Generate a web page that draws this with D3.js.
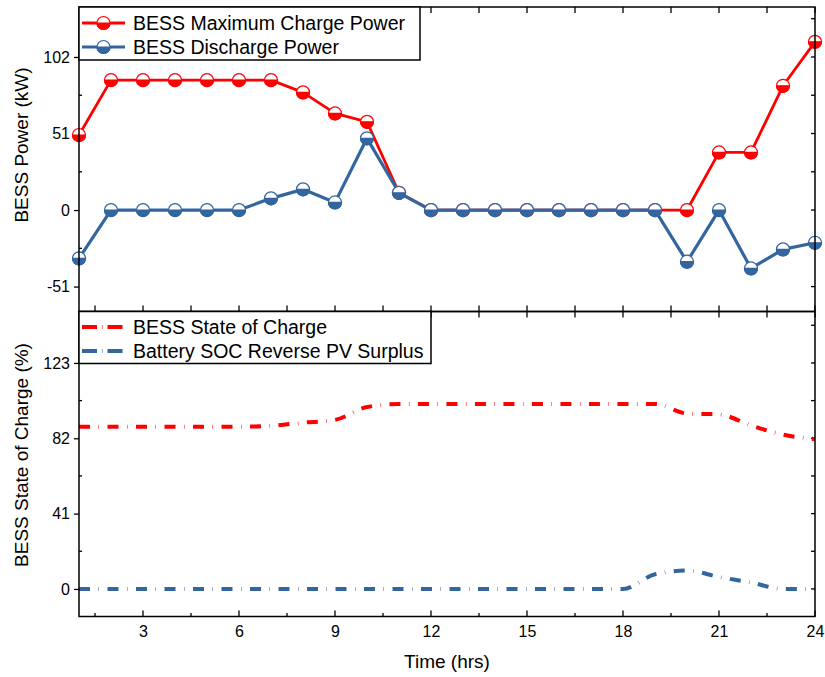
<!DOCTYPE html>
<html>
<head>
<meta charset="utf-8">
<script src="https://cdn.jsdelivr.net/npm/d3@7"></script>
<style>
  html, body { margin: 0; padding: 0; background: #fff; }
  svg { display: block; font-family: "Liberation Sans", Arial, sans-serif; }
</style>
</head>
<body>
<svg id="chart" width="825" height="677"></svg>
<script>
// Hourly BESS operation data
const hours = [1,2,3,4,5,6,7,8,9,10,11,12,13,14,15,16,17,18,19,20,21,22,23,24];
const chargePower = [50, 86.6, 86.6, 86.6, 86.6, 86.6, 86.6, 78.4, 64.4, 58.8, 11.5, 0,
                     0, 0, 0, 0, 0, 0, 0, 0, 38.4, 38.4, 82.8, 112.1];
const dischargePower = [-32.2, 0, 0, 0, 0, 0, 7.8, 13.8, 5.1, 47.8, 11.5, 0,
                        0, 0, 0, 0, 0, 0, 0, -34.4, 0, -38.9, -26.2, -21.8];
const stateOfCharge = [88.3, 88.3, 88.3, 88.3, 88.3, 88.3, 88.8, 90.5, 92, 99, 100.7, 100.7,
                       100.7, 100.7, 100.7, 100.7, 100.7, 100.7, 100.7, 95.5, 95, 89, 84, 81.5];
const socReverse = [0, 0, 0, 0, 0, 0, 0, 0, 0, 0, 0, 0,
                    0, 0, 0, 0, 0, 0, 8, 10, 6.5, 3.5, 0, 0];

const xTicks = [3, 6, 9, 12, 15, 18, 21, 24];
const powerTicks = [-51, 0, 51, 102];
const socTicks = [0, 41, 82, 123];

const RED = "#ff0000";
const BLUE = "#33659e";

const svg = d3.select("#chart");

const left = 79, right = 815;
const topY0 = 7, midY = 311.5, botY = 616.5;

const x = d3.scaleLinear().domain([1, 24]).range([left, right]);
const yPow = d3.scaleLinear().domain([-67.6, 135.3]).range([midY, topY0]);
const ySoc = d3.scaleLinear().domain([-15, 151]).range([botY, midY]);

// plain hyphen-minus labels
const fmt = d => String(d);

// minor tick positions (half-steps between major ticks)
const xMinor = d3.range(1.5, 24, 3);
const powMinor = [-25.5, 25.5, 76.5, 127.5];
const socMinor = [20.5, 61.5, 102.5, 143.5];

function drawPanel(y, y0, y1, majors, minors, isBottom) {
  const g = svg.append("g");
  // inward ticks along the top and bottom edges
  xTicks.forEach(t => {
    g.append("line").attr("x1", x(t)).attr("x2", x(t))
      .attr("y1", y1).attr("y2", y1 + 6).attr("stroke", "#000").attr("stroke-width", 1.3);
    g.append("line").attr("x1", x(t)).attr("x2", x(t))
      .attr("y1", y0).attr("y2", y0 - 6).attr("stroke", "#000").attr("stroke-width", 1.3);
  });
  xMinor.forEach(t => {
    g.append("line").attr("x1", x(t)).attr("x2", x(t))
      .attr("y1", y1).attr("y2", y1 + 6).attr("stroke", "#000").attr("stroke-width", 1.3);
    g.append("line").attr("x1", x(t)).attr("x2", x(t))
      .attr("y1", y0).attr("y2", y0 - (isBottom ? 3.5 : 6)).attr("stroke", "#000").attr("stroke-width", 1.3);
  });
  // left axis: labelled ticks outward, minor ticks inward
  const axL = d3.axisLeft(y).tickValues(majors).tickSize(5).tickPadding(4).tickFormat(fmt);
  const gl = g.append("g").attr("transform", `translate(${left},0)`).call(axL);
  gl.select(".domain").remove();
  gl.selectAll(".tick line").attr("stroke-width", 1.3);
  gl.selectAll(".tick text").attr("font-size", 16).attr("fill", "#000")
    .attr("font-family", "'Liberation Sans', Arial, sans-serif");
  minors.forEach(v => {
    if (v > y.domain()[1]) return;
    g.append("line").attr("x1", left).attr("x2", left + 3)
      .attr("y1", y(v)).attr("y2", y(v)).attr("stroke", "#000").attr("stroke-width", 1.3);
  });
  // right edge: inward ticks at every half-step
  majors.concat(minors).forEach(v => {
    if (v > y.domain()[1]) return;
    g.append("line").attr("x1", right).attr("x2", right - 4)
      .attr("y1", y(v)).attr("y2", y(v)).attr("stroke", "#000").attr("stroke-width", 1.3);
  });
  return g;
}

drawPanel(yPow, midY, topY0, powerTicks, powMinor, false);
drawPanel(ySoc, botY, midY, socTicks, socMinor, true);

// bottom x axis labels
const axB = d3.axisBottom(x).tickValues(xTicks).tickSize(0).tickPadding(9).tickFormat(fmt);
const gb = svg.append("g").attr("transform", `translate(0,${botY})`).call(axB);
gb.select(".domain").remove();
gb.selectAll(".tick text").attr("font-size", 16).attr("fill", "#000")
  .attr("font-family", "'Liberation Sans', Arial, sans-serif");

// clip path for the SOC panel
const defs = svg.append("defs");
defs.append("clipPath").attr("id", "clipBot").append("rect")
  .attr("x", left).attr("y", midY).attr("width", right - left).attr("height", botY - midY);

// ---- Power panel: lines with half-filled circle markers
const powerSeries = [
  { name: "BESS Maximum Charge Power", values: chargePower, color: RED, width: 2.8 },
  { name: "BESS Discharge Power", values: dischargePower, color: BLUE, width: 3.2 }
];

function halfMarker(g, cx, cy, r, color) {
  g.append("circle").attr("cx", cx).attr("cy", cy).attr("r", r)
    .attr("fill", "#fff").attr("stroke", color).attr("stroke-width", 1.2);
  g.append("path")
    .attr("d", `M${cx - r},${cy} A${r},${r} 0 0 0 ${cx + r},${cy} Z`)
    .attr("fill", color).attr("stroke", color).attr("stroke-width", 1.2);
}

const lineGen = d3.line().x((d, i) => x(hours[i])).y(d => yPow(d));
const gTop = svg.append("g");
powerSeries.forEach(s => {
  gTop.append("path").datum(s.values).attr("d", lineGen)
    .attr("fill", "none").attr("stroke", s.color).attr("stroke-width", s.width)
    .attr("stroke-linejoin", "round");
  s.values.forEach((v, i) => halfMarker(gTop, x(hours[i]), yPow(v), 6.5, s.color));
});

// ---- SOC panel: smooth dash-dot curves
const socSeries = [
  { name: "BESS State of Charge", values: stateOfCharge, color: RED },
  { name: "Battery SOC Reverse PV Surplus", values: socReverse, color: BLUE }
];
const socLine = d3.line().x((d, i) => x(hours[i])).y(d => ySoc(d)).curve(d3.curveMonotoneX);
const gBot = svg.append("g").attr("clip-path", "url(#clipBot)");
socSeries.forEach(s => {
  gBot.append("path").datum(s.values).attr("d", socLine)
    .attr("fill", "none").attr("stroke", s.color).attr("stroke-width", 4)
    .attr("stroke-dasharray", "11,8.5,0.5,8.5");
});

// ---- frames
[[topY0, midY], [midY, botY]].forEach(([a, b]) => {
  svg.append("rect").attr("x", left).attr("y", a).attr("width", right - left).attr("height", b - a)
    .attr("fill", "none").attr("stroke", "#000").attr("stroke-width", 1.5);
});

// ---- legends
function legendBox(y0, w, h) {
  svg.append("rect").attr("x", left).attr("y", y0).attr("width", w).attr("height", h)
    .attr("fill", "#fff").attr("stroke", "#000").attr("stroke-width", 1.5);
}
legendBox(topY0, 341, 53);
powerSeries.forEach((s, i) => {
  const ly = 23 + i * 24;
  svg.append("line").attr("x1", 82).attr("x2", 125).attr("y1", ly).attr("y2", ly)
    .attr("stroke", s.color).attr("stroke-width", s.width);
  halfMarker(svg, 103.5, ly, 6.5, s.color);
  svg.append("text").attr("x", 133).attr("y", ly + 7).attr("font-size", 19.5)
    .attr("fill", "#000").text(s.name);
});

legendBox(midY, 352, 52);
socSeries.forEach((s, i) => {
  const ly = 327 + i * 24;
  svg.append("line").attr("x1", 82).attr("x2", 125).attr("y1", ly).attr("y2", ly)
    .attr("stroke", s.color).attr("stroke-width", 4)
    .attr("stroke-dasharray", "15,5,0.5,5,15");
  svg.append("text").attr("x", 133).attr("y", ly + 7).attr("font-size", 19.5)
    .attr("fill", "#000").text(s.name);
});

// ---- axis titles
svg.append("text").attr("transform", "translate(28,145) rotate(-90)")
  .attr("text-anchor", "middle").attr("font-size", 19).attr("fill", "#000").text("BESS Power (kW)");
svg.append("text").attr("transform", "translate(28,455) rotate(-90)")
  .attr("text-anchor", "middle").attr("font-size", 19).attr("fill", "#000").text("BESS State of Charge (%)");
svg.append("text").attr("x", 447).attr("y", 668)
  .attr("text-anchor", "middle").attr("font-size", 19).attr("fill", "#000").text("Time (hrs)");
</script>
</body>
</html>
